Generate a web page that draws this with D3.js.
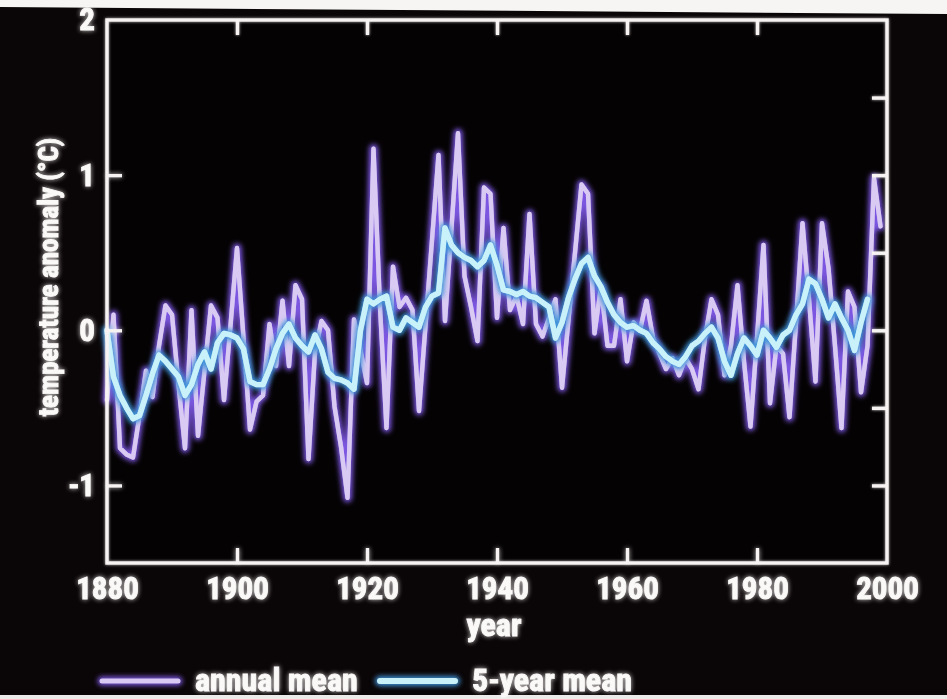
<!DOCTYPE html>
<html>
<head>
<meta charset="utf-8">
<script src="https://cdn.jsdelivr.net/npm/d3@7"></script>
<style>
  html, body { margin: 0; padding: 0; background: #060304; }
  svg { display: block; }
  .lbl { font-family: "Liberation Sans Narrow", "Arial Narrow", "Roboto Condensed", "Liberation Sans", sans-serif; font-weight: bold; fill: #fbf8f8; stroke: #fbf8f8; stroke-width: 0.9; paint-order: stroke; }
</style>
</head>
<body>
<svg id="chart" width="947" height="699"></svg>
<script>
// Annual mean temperature anomaly (°C), one value per year from 1880
const annualStart = 1880;
const annualMean = [
  -0.45, 0.10, -0.76, -0.80, -0.82, -0.55, -0.26, -0.43, -0.10, 0.16,
   0.10, -0.35, -0.76, 0.13, -0.68, -0.26, 0.16, 0.08, -0.45, 0.03,
   0.53, -0.05, -0.64, -0.46, -0.42, 0.04, -0.23, 0.19, -0.23, 0.29,
   0.20, -0.83, -0.14, 0.06, 0.00, -0.49, -0.75, -1.08, 0.07, -0.13,
  -0.34, 1.17, 0.15, -0.63, 0.41, 0.15, 0.21, 0.13, -0.52, 0.03,
   0.58, 1.13, 0.06, 0.66, 1.27, 0.35, 0.15, -0.07, 0.92, 0.88,
   0.08, 0.66, 0.13, 0.22, 0.04, 0.75, 0.04, -0.04, 0.08, 0.20,
  -0.37, 0.07, 0.50, 0.94, 0.88, -0.02, 0.28, -0.10, -0.10, 0.20,
  -0.20, 0.05, 0.00, 0.19, -0.05, -0.15, -0.25, -0.18, -0.29, -0.18,
  -0.25, -0.38, -0.05, 0.20, 0.10, -0.29, -0.10, 0.29, -0.20, -0.62,
  -0.05, 0.55, -0.47, -0.10, -0.15, -0.56, 0.05, 0.69, 0.20, -0.33,
   0.69, 0.40, -0.10, -0.63, 0.25, 0.15, -0.40, -0.10, 0.98, 0.67
];

// 5-year running mean (°C), one value per year from 1880
const smoothStart = 1880;
const fiveYearMean = [
   0.00, -0.30, -0.42, -0.50, -0.57, -0.55, -0.42, -0.28, -0.16, -0.20,
  -0.25, -0.30, -0.42, -0.35, -0.22, -0.14, -0.25, -0.08, -0.02, -0.03,
  -0.05, -0.12, -0.33, -0.35, -0.35, -0.25, -0.12, -0.02, 0.04, -0.05,
  -0.10, -0.14, -0.03, -0.12, -0.27, -0.31, -0.32, -0.34, -0.38, 0.00,
   0.20, 0.17, 0.20, 0.22, 0.02, 0.00, 0.08, 0.05, 0.02, 0.15,
   0.22, 0.24, 0.66, 0.55, 0.50, 0.47, 0.45, 0.41, 0.45, 0.55,
   0.42, 0.26, 0.25, 0.23, 0.25, 0.22, 0.21, 0.18, 0.15, -0.05,
   0.05, 0.21, 0.33, 0.43, 0.47, 0.35, 0.28, 0.18, 0.10, 0.05,
   0.02, 0.03, 0.00, -0.02, -0.08, -0.12, -0.17, -0.20, -0.22, -0.17,
  -0.10, -0.07, -0.02, 0.02, -0.05, -0.20, -0.29, -0.15, -0.05, -0.10,
  -0.16, 0.00, -0.05, -0.11, -0.03, 0.00, 0.10, 0.17, 0.33, 0.30,
   0.20, 0.08, 0.17, 0.08, 0.00, -0.13, 0.05, 0.20
];

const xTickYears = [1880, 1900, 1920, 1940, 1960, 1980, 2000];
const xInnerTicks = [1900, 1920, 1940, 1960, 1980];
const yTickLabels = [-1, 0, 1, 2];
const yRightTicks = [-1, -0.5, 0, 0.5, 1, 1.5];
const seriesNames = ["annual mean", "5-year mean"];

const W = 947, H = 699;
const plot = { left: 107, right: 887, top: 20, bottom: 563 };

const svg = d3.select("#chart");
const defs = svg.append("defs");

function blurFilter(id, std, keepSource, haloOpacity) {
  const f = defs.append("filter").attr("id", id)
    .attr("filterUnits", "userSpaceOnUse")
    .attr("x", 0).attr("y", 0).attr("width", W).attr("height", H);
  f.append("feGaussianBlur").attr("in", "SourceGraphic").attr("stdDeviation", std).attr("result", "b");
  f.append("feComponentTransfer").attr("in", "b").attr("result", "bo")
    .append("feFuncA").attr("type", "linear").attr("slope", haloOpacity);
  const m = f.append("feMerge");
  m.append("feMergeNode").attr("in", "bo");
  if (keepSource) m.append("feMergeNode").attr("in", "SourceGraphic");
}
blurFilter("halo", 2.8, false, 1);
blurFilter("textGlow", 2.6, true, 0.8);
blurFilter("frameGlow", 1.8, true, 0.8);
blurFilter("coreSoft", 0.7, true, 0.6);

// background and page edges
svg.append("rect").attr("width", W).attr("height", H).attr("fill", "#0a0506");
svg.append("polygon").attr("points", "0,0 947,0 947,14 0,7").attr("fill", "#f6f5f4");
svg.append("rect").attr("x", 0).attr("y", 695).attr("width", W).attr("height", 4).attr("fill", "#ecebea");

const x = d3.scaleLinear().domain([1880, 2000]).range([plot.left, plot.right]);
const y = d3.scaleLinear().domain([-1.5, 2]).range([plot.bottom, plot.top]);

svg.append("rect").attr("x", plot.left).attr("y", plot.top)
  .attr("width", plot.right - plot.left).attr("height", plot.bottom - plot.top)
  .attr("fill", "#040203");

const annualPts = annualMean.map((v, i) => [annualStart + i, v]);
const smoothPts = fiveYearMean.map((v, i) => [smoothStart + i, v]);
const line = d3.line().x(d => x(d[0])).y(d => y(d[1]));

const styles = {
  annual: { halo: "#7b56e0", haloW: 9, core: "#d8caf2", coreW: 4.4 },
  smooth: { halo: "#3f93d8", haloW: 10, core: "#c8f1fa", coreW: 5.4 }
};

function drawSeries(g, pts, st) {
  g.append("path").datum(pts).attr("d", line)
    .attr("fill", "none").attr("stroke", st.halo).attr("stroke-width", st.haloW)
    .attr("stroke-linejoin", "round").attr("stroke-linecap", "round")
    .attr("filter", "url(#halo)");
  g.append("path").datum(pts).attr("d", line)
    .attr("fill", "none").attr("stroke", st.core).attr("stroke-width", st.coreW)
    .attr("stroke-linejoin", "round").attr("stroke-linecap", "round")
    .attr("filter", "url(#coreSoft)");
}

const series = svg.append("g");
drawSeries(series.append("g"), annualPts, styles.annual);
drawSeries(series.append("g"), smoothPts, styles.smooth);

// frame and axes
const frame = svg.append("g").attr("filter", "url(#frameGlow)");
frame.append("rect")
  .attr("x", plot.left).attr("y", plot.top)
  .attr("width", plot.right - plot.left).attr("height", plot.bottom - plot.top)
  .attr("fill", "none").attr("stroke", "#f7f3f3").attr("stroke-width", 3.4);

const tickLen = 15;
function styleAxis(g) {
  g.select(".domain").remove();
  g.selectAll(".tick line").attr("stroke", "#f7f3f3").attr("stroke-width", 3.4);
}

frame.append("g").attr("transform", `translate(0,${plot.top})`)
  .call(d3.axisTop(x).tickValues(xInnerTicks).tickSize(-tickLen).tickFormat(""))
  .call(styleAxis);
frame.append("g").attr("transform", `translate(${plot.right},0)`)
  .call(d3.axisRight(y).tickValues(yRightTicks).tickSize(-tickLen).tickFormat(""))
  .call(styleAxis);

const labels = svg.append("g").attr("filter", "url(#textGlow)");

const xAxisG = labels.append("g").attr("transform", `translate(0,${plot.bottom})`)
  .call(d3.axisBottom(x).tickValues(xTickYears).tickSize(-tickLen).tickPadding(14).tickFormat(d3.format("d")))
  .call(styleAxis);
xAxisG.selectAll(".tick line").filter(d => d === 1880 || d === 2000).remove();
xAxisG.selectAll(".tick text").attr("class", "lbl").attr("font-size", 31).attr("fill", null);

const yAxisG = labels.append("g").attr("transform", `translate(${plot.left},0)`)
  .call(d3.axisLeft(y).tickValues(yTickLabels).tickSize(-tickLen).tickPadding(12).tickFormat(d => String(d)))
  .call(styleAxis);
yAxisG.selectAll(".tick line").filter(d => d === 2).remove();
yAxisG.selectAll(".tick text").attr("class", "lbl").attr("font-size", 31).attr("fill", null);
labels.selectAll(".tick").attr("font-family", null).attr("font-size", null);

labels.append("text").attr("class", "lbl")
  .attr("x", 494).attr("y", 636).attr("text-anchor", "middle").attr("font-size", 32)
  .text("year");

labels.append("text").attr("class", "lbl")
  .attr("transform", "translate(49,277) rotate(-90)")
  .attr("text-anchor", "middle").attr("dominant-baseline", "central").attr("font-size", 27)
  .text("temperature anomaly (°C)");

// legend
const legend = svg.append("g");
const legendItems = [
  { name: seriesNames[0], st: styles.annual, x0: 102, x1: 178, tx: 195 },
  { name: seriesNames[1], st: styles.smooth, x0: 380, x1: 455, tx: 472 }
];
legendItems.forEach(it => {
  const pts = [[it.x0, 681], [it.x1, 681]];
  const l = d3.line();
  legend.append("path").attr("d", l(pts)).attr("stroke", it.st.halo).attr("stroke-width", it.st.haloW)
    .attr("stroke-linecap", "round").attr("filter", "url(#halo)");
  legend.append("path").attr("d", l(pts)).attr("stroke", it.st.core).attr("stroke-width", it.st.coreW + 0.6)
    .attr("stroke-linecap", "round");
  labels.append("text").attr("class", "lbl")
    .attr("x", it.tx).attr("y", 691).attr("font-size", 32)
    .text(it.name);
});
</script>
</body>
</html>
